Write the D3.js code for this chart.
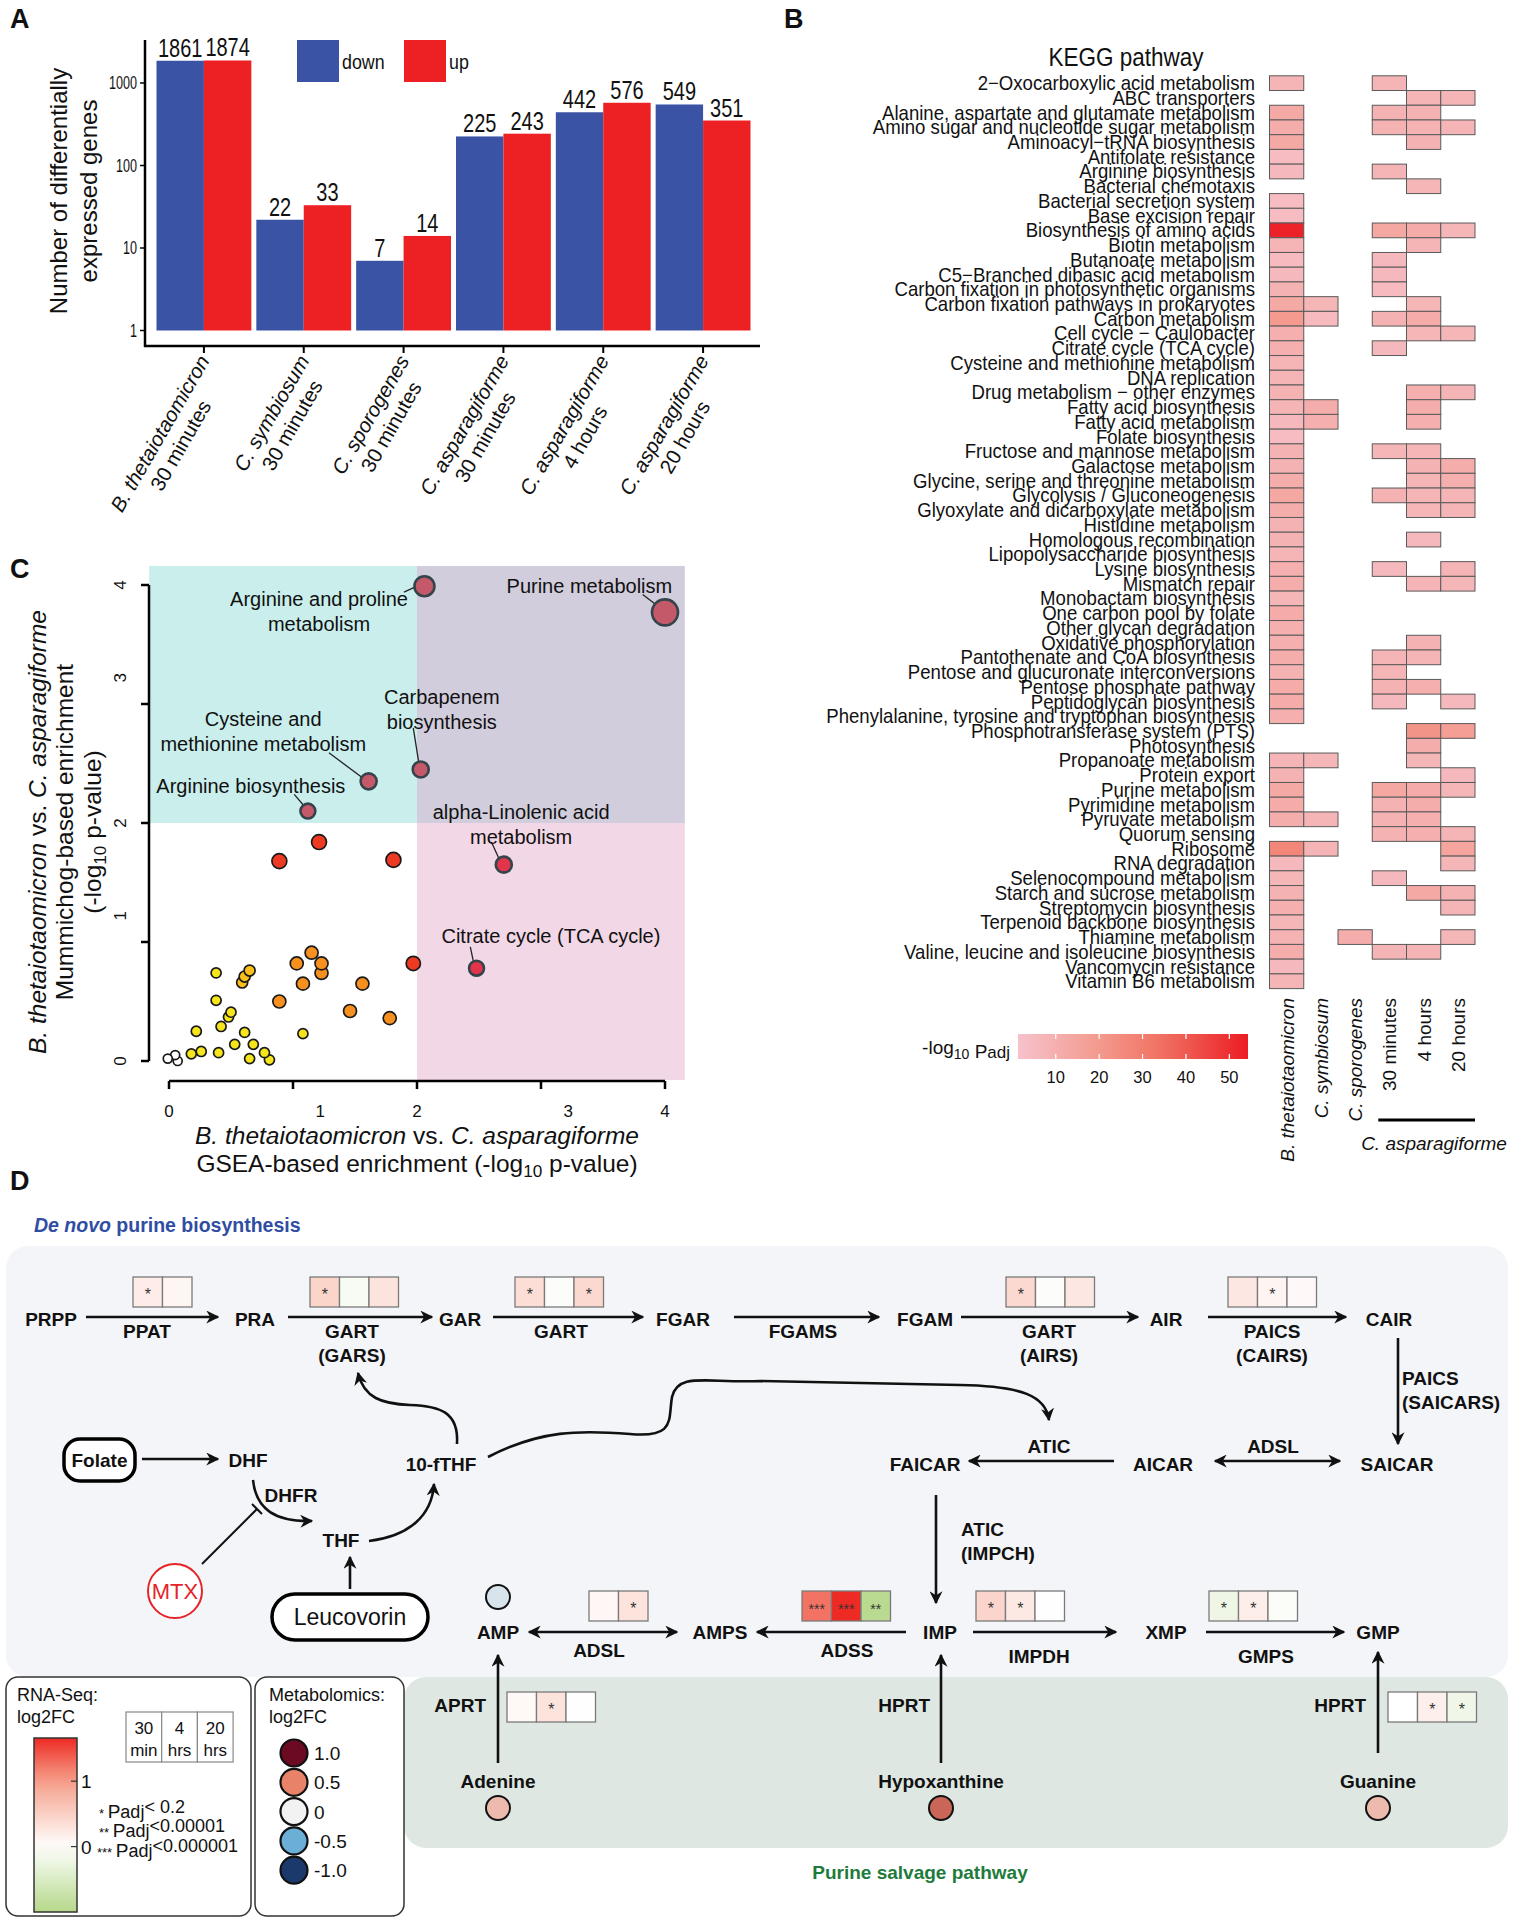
<!DOCTYPE html>
<html>
<head>
<meta charset="utf-8">
<script src="https://cdn.jsdelivr.net/npm/d3@7"></script>
<style>
body { margin: 0; background: #fff; }
svg { font-family: "Liberation Sans", Arial, Helvetica, sans-serif; fill: #111; }
</style>
</head>
<body>
<div class="canvas"></div>
<script>
// ---------- data ----------
// A: differentially expressed genes
var aSpecies = ['B. thetaiotaomicron', 'C. symbiosum', 'C. sporogenes', 'C. asparagiforme', 'C. asparagiforme', 'C. asparagiforme'];
var aTimes = ['30 minutes', '30 minutes', '30 minutes', '30 minutes', '4 hours', '20 hours'];
var aDown = [1861, 22, 7, 225, 442, 549];
var aUp = [1874, 33, 14, 243, 576, 351];
var aTicks = [1, 10, 100, 1000];

// B: KEGG enrichment, -log10 padj (null = not enriched)
var keggColumns = ['B. thetaiotaomicron', 'C. symbiosum', 'C. sporogenes', '30 minutes', '4 hours', '20 hours'];
var keggPathways = [
  '2\u2212Oxocarboxylic acid metabolism', 'ABC transporters', 'Alanine, aspartate and glutamate metabolism',
  'Amino sugar and nucleotide sugar metabolism', 'Aminoacyl\u2212tRNA biosynthesis', 'Antifolate resistance',
  'Arginine biosynthesis', 'Bacterial chemotaxis', 'Bacterial secretion system', 'Base excision repair',
  'Biosynthesis of amino acids', 'Biotin metabolism', 'Butanoate metabolism', 'C5\u2212Branched dibasic acid metabolism',
  'Carbon fixation in photosynthetic organisms', 'Carbon fixation pathways in prokaryotes', 'Carbon metabolism',
  'Cell cycle \u2212 Caulobacter', 'Citrate cycle (TCA cycle)', 'Cysteine and methionine metabolism', 'DNA replication',
  'Drug metabolism \u2212 other enzymes', 'Fatty acid biosynthesis', 'Fatty acid metabolism', 'Folate biosynthesis',
  'Fructose and mannose metabolism', 'Galactose metabolism', 'Glycine, serine and threonine metabolism',
  'Glycolysis / Gluconeogenesis', 'Glyoxylate and dicarboxylate metabolism', 'Histidine metabolism',
  'Homologous recombination', 'Lipopolysaccharide biosynthesis', 'Lysine biosynthesis', 'Mismatch repair',
  'Monobactam biosynthesis', 'One carbon pool by folate', 'Other glycan degradation', 'Oxidative phosphorylation',
  'Pantothenate and CoA biosynthesis', 'Pentose and glucuronate interconversions', 'Pentose phosphate pathway',
  'Peptidoglycan biosynthesis', 'Phenylalanine, tyrosine and tryptophan biosynthesis', 'Phosphotransferase system (PTS)',
  'Photosynthesis', 'Propanoate metabolism', 'Protein export', 'Purine metabolism', 'Pyrimidine metabolism',
  'Pyruvate metabolism', 'Quorum sensing', 'Ribosome', 'RNA degradation', 'Selenocompound metabolism',
  'Starch and sucrose metabolism', 'Streptomycin biosynthesis', 'Terpenoid backbone biosynthesis',
  'Thiamine metabolism', 'Valine, leucine and isoleucine biosynthesis', 'Vancomycin resistance', 'Vitamin B6 metabolism'
];
var n = null;
var keggValues = [
  [8, n, n, 8, n, n], [n, n, n, n, 8, 8], [13, n, n, 9, 9, n], [11, n, n, 9, 9, 8], [13, n, n, n, 9, n],
  [4, n, n, n, n, n], [6, n, n, 8, n, n], [n, n, n, n, 7, n], [4, n, n, n, n, n], [4, n, n, n, n, n],
  [53, n, n, 14, 12, 7], [8, n, n, n, 8, n], [5, n, n, 6, n, n], [6, n, n, 6, n, n], [9, n, n, 5, n, n],
  [13, 7, n, n, 7, n], [20, 5, n, 9, 12, n], [10, n, n, n, 7, 7], [10, n, n, 6, n, n], [8, n, n, n, n, n],
  [8, n, n, n, n, n], [9, n, n, n, 10, 8], [8, 11, n, n, 11, n], [6, 10, n, n, 10, n], [4, n, n, n, n, n],
  [9, n, n, 7, 7, n], [9, n, n, n, 9, 11], [11, n, n, n, 8, 10], [14, n, n, 9, 8, 8], [11, n, n, n, 7, 8],
  [9, n, n, n, n, n], [9, n, n, n, 6, n], [8, n, n, n, n, n], [10, n, n, 6, n, 8], [11, n, n, n, 8, 7],
  [7, n, n, n, n, n], [12, n, n, n, n, n], [10, n, n, n, n, n], [10, n, n, n, 9, n], [11, n, n, 8, 8, n],
  [9, n, n, 8, n, n], [12, n, n, 9, 10, n], [12, n, n, 6, n, 6], [10, n, n, n, n, n], [n, n, n, n, 22, 18],
  [n, n, n, n, 11, n], [8, 7, n, n, 7, n], [9, n, n, n, n, 6], [13, n, n, 14, 12, 7], [12, n, n, 9, 11, n],
  [11, 8, n, 9, 10, n], [n, n, n, 9, 10, 8], [27, 8, n, n, n, 15], [6, n, n, n, n, 7], [7, n, n, 6, n, n],
  [9, n, n, n, 13, 9], [10, n, n, n, n, 8], [7, n, n, n, n, n], [9, n, 11, n, n, 7], [11, n, n, 8, 8, n],
  [6, n, n, n, n, n], [8, n, n, n, n, n]
];
var keggLegendTicks = [10, 20, 30, 40, 50];

// C: GSEA vs mummichog enrichment (-log10 p)
var cGsea = [4.0, 2.06, 2.03, 1.61, 1.12, 2.70, 2.48,
  1.21, 0.89, 1.81, 1.97,
  1.15, 1.03, 1.23, 1.23, 1.08, 1.56, 0.89, 1.46, 1.78,
  0.65, 0.61, 0.59,
  0.38, 0.38, 0.50, 0.48, 0.42, 0.22, 0.61, 1.08, 0.53, 0.68, 0.77, 0.26, 0.18, 0.40, 0.65, 0.81,
  -0.01, 0.05, 0.07];
var cMummichog = [3.77, 3.99, 2.45, 2.35, 2.10, 1.65, 0.78,
  1.84, 1.68, 1.69, 0.82,
  0.91, 0.82, 0.82, 0.74, 0.65, 0.65, 0.50, 0.42, 0.36,
  0.76, 0.71, 0.66,
  0.74, 0.51, 0.41, 0.37, 0.29, 0.25, 0.24, 0.23, 0.14, 0.14, 0.07, 0.08, 0.06, 0.07, 0.02, 0.01,
  0.02, 0.05, 0.00];
var cLevel = [6, 6, 6, 6, 6, 5, 5,
  4, 4, 4, 4,
  3, 3, 3, 3, 3, 3, 3, 3, 3,
  2, 2, 2,
  1, 1, 1, 1, 1, 1, 1, 1, 1, 1, 1, 1, 1, 1, 1, 1,
  0, 0, 0];
var cSetSize = [100, 59, 38, 38, 33, 38, 33,
  33, 33, 33, 30,
  25, 25, 25, 25, 25, 25, 25, 25, 25,
  18, 18, 18,
  15, 15, 15, 15, 15, 15, 15, 15, 15, 15, 15, 15, 15, 15, 15, 15,
  12, 12, 12];
var cLabels = [
  ['Purine metabolism'],
  ['Arginine and proline', 'metabolism'],
  ['Carbapenem', 'biosynthesis'],
  ['Cysteine and', 'methionine metabolism'],
  ['Arginine biosynthesis'],
  ['alpha-Linolenic acid', 'metabolism'],
  ['Citrate cycle (TCA cycle)']
];
var cTicks = [0, 1, 2, 3, 4];

// D: RNA-seq log2FC (30 min, 4 h, 20 h) and metabolomics log2FC
var dEnzymes = ['PPAT', 'GART (GARS)', 'GART', 'GART (AIRS)', 'PAICS (CAIRS)', 'ADSL', 'ADSS', 'IMPDH', 'GMPS', 'APRT', 'HPRT'];
var dLog2FC = [[0.2, 0.1], [0.45, -0.1, 0.3], [0.35, -0.04, 0.4], [0.4, -0.04, 0.25], [0.25, 0.12, 0.06],
  [0.08, 0.3], [1.25, 1.66, -0.95], [0.44, 0.23, 0.01], [-0.22, 0.18, -0.05], [0.07, 0.3, 0.01], [0.0, 0.17, -0.2]];
var dStars = [['*', ''], ['*', '', ''], ['*', '', '*'], ['*', '', ''], ['', '*', ''],
  ['', '*'], ['***', '***', '**'], ['*', '*', ''], ['*', '*', ''], ['', '*', ''], ['', '*', '*']];
var dMetabolites = ['AMP', 'Adenine', 'Hypoxanthine', 'Guanine'];
var dMetaboliteFC = [-0.1, 0.25, 0.62, 0.25];
var dMetaLegend = [1.0, 0.5, 0, -0.5, -1.0];
var dMetaLegendText = ['1.0', '0.5', '0', '-0.5', '-1.0'];

// ---------- canvas ----------
var svg = d3.select('.canvas').append('svg')
    .attr('width', 1513)
    .attr('height', 1920);
var defs = svg.append('defs');

// condensed text: squeeze horizontally around the anchor point
function narrow(parent, x, y, str, size, sx, anchor) {
  return parent.append('text')
      .attr('transform', 'translate(' + x + ',' + y + ') scale(' + sx + ',1)')
      .attr('text-anchor', anchor || 'start')
      .attr('font-size', size)
      .text(str);
}

function panelLetter(x, y, s) {
  svg.append('text').attr('x', x).attr('y', y)
      .attr('font-size', 27).attr('font-weight', 'bold').text(s);
}
panelLetter(10, 28, 'A');
panelLetter(784, 28, 'B');
panelLetter(10, 578, 'C');
panelLetter(10, 1190, 'D');

// ---------- A ----------
var gA = svg.append('g');
var xA = d3.scaleBand().domain(d3.range(6)).range([154, 753]).paddingInner(0.05).paddingOuter(0.025);
var xIn = d3.scaleBand().domain(['down', 'up']).range([0, xA.bandwidth()]);
var yA = d3.scaleLog().domain([1, 1000]).range([330.5, 83]);
var aColor = { down: '#3A53A4', up: '#ED2024' };

d3.range(6).forEach(function (i) {
  [['down', aDown[i]], ['up', aUp[i]]].forEach(function (d) {
    var x = xA(i) + xIn(d[0]);
    gA.append('rect')
        .attr('x', x).attr('y', yA(d[1]))
        .attr('width', xIn.bandwidth()).attr('height', yA(1) - yA(d[1]))
        .attr('fill', aColor[d[0]]);
    narrow(gA, x + xIn.bandwidth() / 2, yA(d[1]) - 4, d[1], 25, 0.8, 'middle');
  });
});

aTicks.forEach(function (t) {
  gA.append('line').attr('x1', 140).attr('x2', 145).attr('y1', yA(t)).attr('y2', yA(t)).attr('stroke', '#000').attr('stroke-width', 1.5);
  narrow(gA, 137, yA(t) + 6, d3.format('d')(t), 17.5, 0.72, 'end');
});
gA.append('line').attr('x1', 145).attr('x2', 145).attr('y1', 40).attr('y2', 347).attr('stroke', '#000').attr('stroke-width', 2.5);
gA.append('line').attr('x1', 144).attr('x2', 760).attr('y1', 346).attr('y2', 346).attr('stroke', '#000').attr('stroke-width', 2.5);

d3.range(6).forEach(function (i) {
  var cx = xA(i) + xA.bandwidth() / 2;
  gA.append('line').attr('x1', cx).attr('x2', cx).attr('y1', 346).attr('y2', 353).attr('stroke', '#000').attr('stroke-width', 2);
  var lg = gA.append('g');
  var t1 = lg.append('text').attr('text-anchor', 'middle').attr('y', 5).attr('font-size', 20.5)
      .attr('font-style', 'italic').text(aSpecies[i]);
  var t2 = lg.append('text').attr('text-anchor', 'middle').attr('y', 29).attr('font-size', 20.5).text(aTimes[i]);
  var w = Math.max(t1.node().getComputedTextLength(), t2.node().getComputedTextLength());
  lg.attr('transform', 'translate(' + (cx + 2) + ',358) rotate(-60) translate(' + (-w / 2) + ',0)');
});

var yTitleA = gA.append('text').attr('transform', 'translate(0,191) rotate(-90)')
    .attr('text-anchor', 'middle').attr('font-size', 24);
yTitleA.append('tspan').attr('x', 0).attr('y', 67).text('Number of differentially');
yTitleA.append('tspan').attr('x', 0).attr('y', 97).text('expressed genes');

// legend
[['down', 297], ['up', 404]].forEach(function (d) {
  gA.append('rect').attr('x', d[1]).attr('y', 40).attr('width', 42).attr('height', 42).attr('fill', aColor[d[0]]);
  narrow(gA, d[1] + 45, 69, d[0], 21, 0.85);
});

// ---------- B ----------
var gB = svg.append('g');
var yB = d3.scaleBand().domain(keggPathways).range([75.8, 988.6]);
var xB = d3.scaleBand().domain(keggColumns).range([1269.5, 1475]);
var bDomain = [1.3, 54.3];
var bColor = d3.scaleLinear().domain([1.3, 20, 35, 54.3])
    .range(['#F6C2CB', '#F49A8E', '#F07060', '#EC1C24']);

narrow(gB, 1126, 66, 'KEGG pathway', 25, 0.9, 'middle');

keggPathways.forEach(function (p, r) {
  narrow(gB, 1255, yB(p) + yB.bandwidth() / 2 + 7, p, 20, 0.93, 'end');
  keggValues[r].forEach(function (v, c) {
    if (v === null) return;
    gB.append('rect')
        .attr('x', xB(keggColumns[c])).attr('y', yB(p))
        .attr('width', xB.bandwidth()).attr('height', yB.bandwidth())
        .attr('fill', bColor(v)).attr('stroke', '#5a5a5a').attr('stroke-width', 1);
  });
});

keggColumns.forEach(function (c, i) {
  gB.append('text')
      .attr('transform', 'translate(' + (xB(c) + xB.bandwidth() / 2 + 7) + ',998) rotate(-90)')
      .attr('text-anchor', 'end').attr('font-size', 19)
      .attr('font-style', i < 3 ? 'italic' : 'normal').text(c);
});
gB.append('line').attr('x1', xB('30 minutes') + 6).attr('x2', xB('20 hours') + xB.bandwidth())
    .attr('y1', 1120).attr('y2', 1120).attr('stroke', '#000').attr('stroke-width', 3);
gB.append('text').attr('x', 1434).attr('y', 1150).attr('text-anchor', 'middle')
    .attr('font-size', 19).attr('font-style', 'italic').text('C. asparagiforme');

// colour bar
var xBar = d3.scaleLinear().domain(bDomain).range([1018, 1248]);
var grad = defs.append('linearGradient').attr('id', 'keggGrad');
d3.range(0, 1.001, 0.1).forEach(function (f) {
  grad.append('stop').attr('offset', f).attr('stop-color', bColor(bDomain[0] + f * (bDomain[1] - bDomain[0])));
});
gB.append('rect').attr('x', 1018).attr('y', 1034).attr('width', 230).attr('height', 25).attr('fill', 'url(#keggGrad)');
keggLegendTicks.forEach(function (t) {
  gB.append('line').attr('x1', xBar(t)).attr('x2', xBar(t)).attr('y1', 1034).attr('y2', 1039).attr('stroke', '#fff').attr('stroke-width', 1.2);
  gB.append('line').attr('x1', xBar(t)).attr('x2', xBar(t)).attr('y1', 1054).attr('y2', 1059).attr('stroke', '#fff').attr('stroke-width', 1.2);
  gB.append('text').attr('x', xBar(t)).attr('y', 1083).attr('text-anchor', 'middle').attr('font-size', 16.5).text(t);
});
var lt = gB.append('text').attr('x', 1010).attr('y', 1054).attr('text-anchor', 'end').attr('font-size', 19);
lt.append('tspan').text('-log');
lt.append('tspan').attr('font-size', 14).attr('dy', 5).text('10');
lt.append('tspan').attr('dy', -1).text(' P');
lt.append('tspan').attr('font-size', 17).text('adj');

// ---------- C ----------
var gC = svg.append('g');
var xC = d3.scaleLinear().domain([0, 4]).range([169, 665]);
var yC = d3.scaleLinear().domain([0, 4]).range([1061, 585]);
var rC = d3.scaleSqrt().domain([0, 100]).range([0, 13]);
var cFill = d3.scaleOrdinal().domain([0, 1, 2, 3, 4, 5, 6])
    .range(['#ffffff', '#f6e51b', '#fbbf1a', '#f7901e', '#ee3a23', '#e2344a', '#c4596a']);

var cLo = -0.16, cHi = 4.16, cMid = 2;
[[cLo, cMid, cHi, cMid, '#C9EEEC'], [cMid, cHi, cHi, cMid, '#D1CDDC'], [cMid, cHi, cMid, cLo, '#F2D7E6']].forEach(function (b) {
  gC.append('rect').attr('x', xC(b[0])).attr('y', yC(b[2]))
      .attr('width', xC(b[1]) - xC(b[0])).attr('height', yC(b[3]) - yC(b[2]))
      .attr('fill', b[4]);
});

// axes
var cAxisY = yC(cLo) + 1;
gC.append('line').attr('x1', xC(0)).attr('x2', xC(4)).attr('y1', cAxisY).attr('y2', cAxisY).attr('stroke', '#000').attr('stroke-width', 2.5);
gC.append('line').attr('x1', 149).attr('x2', 149).attr('y1', yC(0)).attr('y2', yC(4)).attr('stroke', '#000').attr('stroke-width', 2.5);
var nudge = { 1: 0.22, 3: 0.22 };
cTicks.forEach(function (t) {
  gC.append('line').attr('x1', xC(t)).attr('x2', xC(t)).attr('y1', cAxisY).attr('y2', cAxisY + 8).attr('stroke', '#000').attr('stroke-width', 2.5);
  gC.append('line').attr('x1', 141).attr('x2', 149).attr('y1', yC(t)).attr('y2', yC(t)).attr('stroke', '#000').attr('stroke-width', 2.5);
  gC.append('text').attr('x', xC(t + (nudge[t] || 0))).attr('y', 1117).attr('text-anchor', 'middle').attr('font-size', 17).text(t);
  gC.append('text').attr('transform', 'translate(126,' + yC(t + (nudge[t] || 0)) + ') rotate(-90)')
      .attr('text-anchor', 'middle').attr('font-size', 17).text(t);
});

function mixedLine(parent, parts) {
  parts.forEach(function (p) {
    var ts = parent.append('tspan').text(p[0]);
    if (p[1] === 'i') ts.attr('font-style', 'italic');
    if (p[1] === 'sub') ts.attr('font-size', '0.7em').attr('dy', 5);
    if (p[1] === 'up') ts.attr('dy', -5);
  });
}
var xt1 = gC.append('text').attr('x', 417).attr('y', 1144).attr('text-anchor', 'middle').attr('font-size', 24.5);
mixedLine(xt1, [['B. thetaiotaomicron', 'i'], [' vs. ', ''], ['C. asparagiforme', 'i']]);
var xt2 = gC.append('text').attr('x', 417).attr('y', 1172).attr('text-anchor', 'middle').attr('font-size', 24.5);
mixedLine(xt2, [['GSEA-based enrichment (-log', ''], ['10', 'sub'], [' p-value)', 'up']]);

var ytC = gC.append('g').attr('transform', 'translate(0,832) rotate(-90)');
var yt1 = ytC.append('text').attr('y', 46).attr('text-anchor', 'middle').attr('font-size', 24.5);
mixedLine(yt1, [['B. thetaiotaomicron', 'i'], [' vs. ', ''], ['C. asparagiforme', 'i']]);
ytC.append('text').attr('y', 73).attr('text-anchor', 'middle').attr('font-size', 24.5).text('Mummichog-based enrichment');
var yt3 = ytC.append('text').attr('y', 101).attr('text-anchor', 'middle').attr('font-size', 24.5);
mixedLine(yt3, [['(-log', ''], ['10', 'sub'], [' p-value)', 'up']]);

// leader lines then points then labels
var cLeaders = [[3.82, 3.92, 3.97, 3.80], [1.895, 3.94, 2.0, 3.99], [1.97, 2.80, 2.02, 2.47],
  [1.29, 2.59, 1.56, 2.38], [1.01, 2.24, 1.10, 2.13], [2.60, 1.84, 2.67, 1.68], [2.43, 0.96, 2.46, 0.81]];
var cLabelAt = [[3.39, 3.99], [1.21, 3.88], [2.2, 3.06], [0.76, 2.87], [0.66, 2.31], [2.84, 2.09], [3.08, 1.05]];
cLeaders.forEach(function (l) {
  gC.append('line').attr('x1', xC(l[0])).attr('y1', yC(l[1])).attr('x2', xC(l[2])).attr('y2', yC(l[3]))
      .attr('stroke', '#222').attr('stroke-width', 1.3);
});
d3.range(cGsea.length).reverse().forEach(function (i) {
  gC.append('circle').attr('cx', xC(cGsea[i])).attr('cy', yC(cMummichog[i]))
      .attr('r', rC(cSetSize[i]))
      .attr('fill', cFill(cLevel[i]))
      .attr('stroke', cLevel[i] >= 5 ? '#34444a' : '#1a1a1a')
      .attr('stroke-width', cLevel[i] >= 5 ? 2.6 : 1.7);
});
cLabels.forEach(function (lines, k) {
  lines.forEach(function (s, j) {
    gC.append('text').attr('x', xC(cLabelAt[k][0])).attr('y', yC(cLabelAt[k][1]) + 7 + j * 25)
        .attr('text-anchor', 'middle').attr('font-size', 20).text(s);
  });
});

// ---------- D ----------
var gD = svg.append('g');
var fcColor = d3.scaleLinear().domain([-1, 0, 1, 1.66]).range(['#B5D88A', '#FFFFFF', '#F5A08A', '#EE2A24']);
var metaColor = d3.scaleLinear().domain([-1, -0.5, 0, 0.5, 1]).range(['#1B3A6B', '#6BAED6', '#F2F2F2', '#E8836A', '#6B0A21']);

gD.append('rect').attr('x', 6).attr('y', 1246).attr('width', 1502).attr('height', 431).attr('rx', 22).attr('fill', '#F3F5F9');
gD.append('rect').attr('x', 404).attr('y', 1677).attr('width', 1104).attr('height', 171).attr('rx', 22).attr('fill', '#DEE7E2');

var t0 = gD.append('text').attr('x', 34).attr('y', 1232).attr('font-size', 19.5).attr('font-weight', 'bold').attr('fill', '#2F4DA3');
t0.append('tspan').attr('font-style', 'italic').text('De novo');
t0.append('tspan').text(' purine biosynthesis');
gD.append('text').attr('x', 920).attr('y', 1879).attr('text-anchor', 'middle').attr('font-size', 19)
    .attr('font-weight', 'bold').attr('fill', '#1E7B3C').text('Purine salvage pathway');

defs.append('marker').attr('id', 'arr').attr('viewBox', '0 0 10 10').attr('refX', 9).attr('refY', 5)
    .attr('markerWidth', 5).attr('markerHeight', 5).attr('orient', 'auto-start-reverse')
    .append('path').attr('d', 'M0,0 L10,5 L0,10 L3,5 Z').attr('fill', '#111');

function node(x, y, s, opts) {
  opts = opts || {};
  gD.append('text').attr('x', x).attr('y', y).attr('text-anchor', opts.anchor || 'middle')
      .attr('font-size', opts.size || 19).attr('font-weight', opts.weight || 'bold').text(s);
}
function arrow(x1, y1, x2, y2, both) {
  var l = gD.append('line').attr('x1', x1).attr('y1', y1).attr('x2', x2).attr('y2', y2)
      .attr('stroke', '#111').attr('stroke-width', 2.6).attr('marker-end', 'url(#arr)');
  if (both) l.attr('marker-start', 'url(#arr)');
}
function curve(d, head) {
  var p = gD.append('path').attr('d', d).attr('fill', 'none').attr('stroke', '#111').attr('stroke-width', 2.6);
  if (head) p.attr('marker-end', 'url(#arr)');
}
var cw = 29.5, ch = 30;
function heatBox(k, x, y) {
  dLog2FC[k].forEach(function (v, i) {
    gD.append('rect').attr('x', x + i * cw).attr('y', y).attr('width', cw).attr('height', ch)
        .attr('fill', fcColor(v)).attr('stroke', '#7a7a7a').attr('stroke-width', 1.3);
    gD.append('text').attr('x', x + i * cw + cw / 2).attr('y', y + ch / 2 + 8)
        .attr('text-anchor', 'middle').attr('font-size', dStars[k][i].length > 1 ? 14 : 16)
        .attr('fill', '#333').text(dStars[k][i]);
  });
}

// row 1
[['PRPP', 51], ['PRA', 255], ['GAR', 460], ['FGAR', 683], ['FGAM', 925], ['AIR', 1166], ['CAIR', 1389]].forEach(function (d) {
  node(d[1], 1326, d[0]);
});
[[86, 218], [288, 432], [493, 643], [734, 879], [961, 1138], [1208, 1346]].forEach(function (a) {
  arrow(a[0], 1317, a[1], 1317);
});
node(147, 1338, 'PPAT');
node(352, 1338, 'GART'); node(352, 1362, '(GARS)');
node(561, 1338, 'GART');
node(803, 1338, 'FGAMS');
node(1049, 1338, 'GART'); node(1049, 1362, '(AIRS)');
node(1272, 1338, 'PAICS'); node(1272, 1362, '(CAIRS)');
heatBox(0, 133, 1277);
heatBox(1, 310, 1277);
heatBox(2, 515, 1277);
heatBox(3, 1006, 1277);
heatBox(4, 1228, 1277);

// CAIR -> SAICAR
arrow(1398, 1338, 1398, 1444);
node(1402, 1385, 'PAICS', { anchor: 'start' });
node(1402, 1409, '(SAICARS)', { anchor: 'start' });

// row 2
node(1397, 1471, 'SAICAR'); node(1163, 1471, 'AICAR'); node(925, 1471, 'FAICAR');
arrow(1215, 1461, 1340, 1461, true);
node(1273, 1453, 'ADSL');
arrow(1114, 1461, 969, 1461);
node(1049, 1453, 'ATIC');
arrow(936, 1495, 936, 1603);
node(961, 1536, 'ATIC', { anchor: 'start' });
node(961, 1560, '(IMPCH)', { anchor: 'start' });

// row 3
[['AMP', 498], ['AMPS', 720], ['IMP', 940], ['XMP', 1166], ['GMP', 1378]].forEach(function (d) {
  node(d[1], 1639, d[0]);
});
arrow(529, 1632, 677, 1632, true); node(599, 1657, 'ADSL'); heatBox(5, 589, 1591);
arrow(906, 1632, 757, 1632); node(847, 1657, 'ADSS'); heatBox(6, 802, 1591);
arrow(973, 1632, 1116, 1632); node(1039, 1663, 'IMPDH'); heatBox(7, 976, 1591);
arrow(1206, 1632, 1344, 1632); node(1266, 1663, 'GMPS'); heatBox(8, 1209, 1591);

// salvage
arrow(498, 1763, 498, 1655); node(486, 1712, 'APRT', { anchor: 'end' }); heatBox(9, 507, 1692);
arrow(941, 1763, 941, 1655); node(930, 1712, 'HPRT', { anchor: 'end' });
arrow(1378, 1753, 1378, 1652); node(1366, 1712, 'HPRT', { anchor: 'end' }); heatBox(10, 1388, 1692);
node(498, 1788, 'Adenine'); node(941, 1788, 'Hypoxanthine'); node(1378, 1788, 'Guanine');

var metaPos = [[498, 1597], [498, 1808], [941, 1808], [1378, 1808]];
dMetabolites.forEach(function (m, i) {
  gD.append('circle').attr('cx', metaPos[i][0]).attr('cy', metaPos[i][1]).attr('r', 12)
      .attr('fill', metaColor(dMetaboliteFC[i])).attr('stroke', '#111').attr('stroke-width', 2);
});

// folate branch
gD.append('rect').attr('x', 64).attr('y', 1439).attr('width', 71).attr('height', 42).attr('rx', 16)
    .attr('fill', '#fff').attr('stroke', '#000').attr('stroke-width', 3.5);
node(99.5, 1467, 'Folate');
arrow(142, 1459, 218, 1459);
node(248, 1467, 'DHF');
node(291, 1502, 'DHFR');
curve('M253,1480 C256,1510 276,1522 312,1521', true);
node(341, 1547, 'THF');
gD.append('circle').attr('cx', 175).attr('cy', 1591).attr('r', 27).attr('fill', '#fff').attr('stroke', '#E52329').attr('stroke-width', 2);
gD.append('text').attr('x', 175).attr('y', 1599).attr('text-anchor', 'middle').attr('font-size', 22).attr('fill', '#E52329').text('MTX');
gD.append('line').attr('x1', 202).attr('y1', 1564).attr('x2', 257).attr('y2', 1509).attr('stroke', '#111').attr('stroke-width', 2);
gD.append('line').attr('x1', 252).attr('y1', 1504).attr('x2', 262).attr('y2', 1514).attr('stroke', '#111').attr('stroke-width', 2);
gD.append('rect').attr('x', 272).attr('y', 1594).attr('width', 156).attr('height', 46).attr('rx', 23)
    .attr('fill', '#fff').attr('stroke', '#000').attr('stroke-width', 3.5);
node(350, 1625, 'Leucovorin', { weight: 'normal', size: 23 });
arrow(350, 1589, 350, 1557);
curve('M369,1541 C410,1536 432,1515 434,1484', true);
node(441, 1471, '10-fTHF');
curve('M457,1444 C459,1412 440,1406 410,1405 C382,1404 364,1398 358,1373', true);
curve('M488,1457 C540,1430 580,1430 630,1434 C676,1438 668,1420 672,1397 C678,1372 705,1383 760,1381 L960,1385 C1022,1386 1046,1396 1049,1420', true);

// legend: RNA-seq
gD.append('rect').attr('x', 6).attr('y', 1677).attr('width', 245).attr('height', 239).attr('rx', 12)
    .attr('fill', '#fff').attr('stroke', '#333').attr('stroke-width', 1.5);
gD.append('text').attr('x', 17).attr('y', 1701).attr('font-size', 18).text('RNA-Seq:');
gD.append('text').attr('x', 17).attr('y', 1723).attr('font-size', 18).text('log2FC');
var yLeg = d3.scaleLinear().domain([-1, 1.66]).range([1912, 1738]);
var vgrad = defs.append('linearGradient').attr('id', 'fcGrad').attr('x1', 0).attr('x2', 0).attr('y1', 1).attr('y2', 0);
d3.range(0, 1.001, 0.1).forEach(function (f) {
  vgrad.append('stop').attr('offset', f).attr('stop-color', fcColor(-1 + f * 2.66));
});
gD.append('rect').attr('x', 34).attr('y', 1738).attr('width', 43).attr('height', 174)
    .attr('fill', 'url(#fcGrad)').attr('stroke', '#333').attr('stroke-width', 1.5);
[0, 1].forEach(function (t) {
  gD.append('line').attr('x1', 71).attr('x2', 77).attr('y1', yLeg(t)).attr('y2', yLeg(t)).attr('stroke', '#333').attr('stroke-width', 1.2);
  gD.append('text').attr('x', 81).attr('y', yLeg(t) + 7).attr('font-size', 19).text(t);
});
var tHead = [['30', 'min'], ['4', 'hrs'], ['20', 'hrs']];
tHead.forEach(function (h, i) {
  gD.append('rect').attr('x', 126 + i * 35.7).attr('y', 1712).attr('width', 35.7).attr('height', 50)
      .attr('fill', '#fff').attr('stroke', '#888').attr('stroke-width', 1.2);
  gD.append('text').attr('x', 126 + i * 35.7 + 17.85).attr('y', 1734).attr('text-anchor', 'middle').attr('font-size', 17).text(h[0]);
  gD.append('text').attr('x', 126 + i * 35.7 + 17.85).attr('y', 1756).attr('text-anchor', 'middle').attr('font-size', 17).text(h[1]);
});
[['*', ' 0.2', 1818, 99], ['**', '0.00001', 1837, 99], ['***', '0.000001', 1857, 97]].forEach(function (s) {
  var tx = gD.append('text').attr('x', s[3]).attr('y', s[2]).attr('font-size', 18);
  tx.append('tspan').attr('font-size', 13).text(s[0] + ' ');
  tx.append('tspan').attr('font-size', 19).text('P');
  tx.append('tspan').attr('font-size', 18).text('adj');
  tx.append('tspan').attr('dy', -5).attr('font-size', 18).text('<' + s[1]);
});

// legend: metabolomics
gD.append('rect').attr('x', 255).attr('y', 1677).attr('width', 149).attr('height', 239).attr('rx', 12)
    .attr('fill', '#fff').attr('stroke', '#333').attr('stroke-width', 1.5);
gD.append('text').attr('x', 269).attr('y', 1701).attr('font-size', 18).text('Metabolomics:');
gD.append('text').attr('x', 269).attr('y', 1723).attr('font-size', 18).text('log2FC');
dMetaLegend.forEach(function (v, i) {
  var cy = 1753 + i * 29.3;
  gD.append('circle').attr('cx', 294).attr('cy', cy).attr('r', 13.5).attr('fill', metaColor(v))
      .attr('stroke', '#111').attr('stroke-width', 2.2);
  gD.append('text').attr('x', 314).attr('y', cy + 7).attr('font-size', 19).text(dMetaLegendText[i]);
});
</script>
</body>
</html>
